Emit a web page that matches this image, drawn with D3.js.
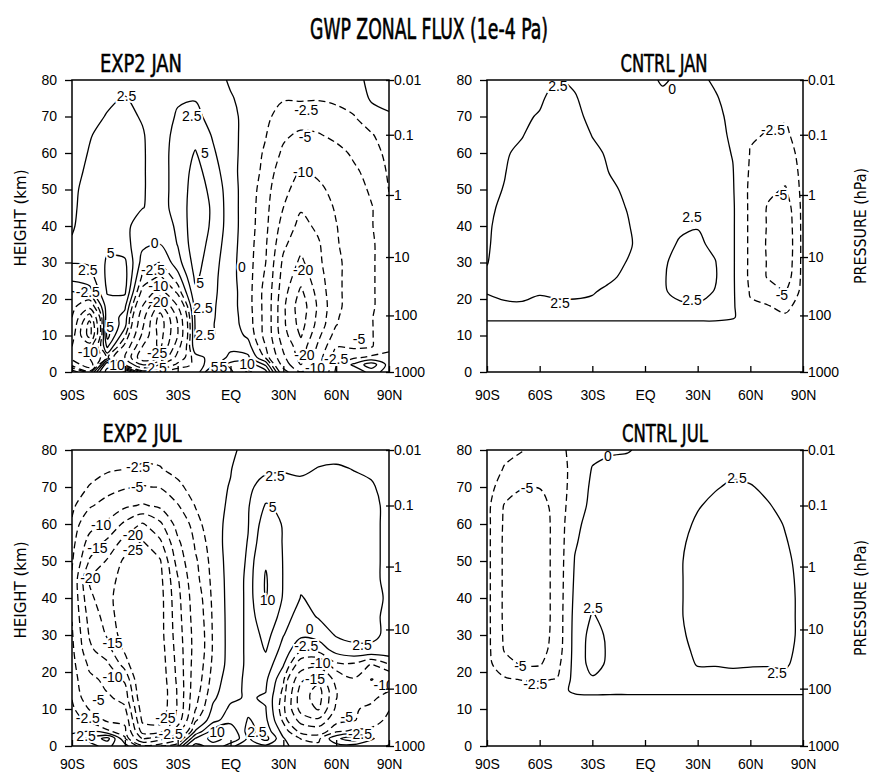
<!DOCTYPE html>
<html>
<head>
<meta charset="utf-8">
<script src="https://cdn.jsdelivr.net/npm/d3@7"></script>
<style>
  body { margin: 0; background: #fff; }
  svg text { font-family: "Liberation Sans", Arial, sans-serif; }
  .narrow { font-family: "Liberation Sans Narrow", "DejaVu Sans Condensed", sans-serif; }
</style>
</head>
<body>
<svg id="chart" width="871" height="775"></svg>
<script>
// grid: one column per latitude, values from 80 km (top) down to the ground
var lats = [-90, -80, -70, -60, -50, -40, -30, -20, -10, 0, 10, 20, 30, 40, 50, 60, 70, 80, 90];
var heights = [80, 75, 70, 65, 60, 55, 50, 45, 40, 35, 30, 26, 22, 18, 15, 13, 10, 7, 4, 2, 0];
var levels = [-25, -20, -15, -10, -5, -2.5, 0, 2.5, 5, 10, 15, 20, 25];

var latTicks = [-90, -60, -30, 0, 30, 60, 90];
var latTickLabels = ["90S", "60S", "30S", "EQ", "30N", "60N", "90N"];
var kmTicks = [0, 10, 20, 30, 40, 50, 60, 70, 80];
var pressureHeights = [0, 15.5, 31.5, 48.5, 65, 80];
var pressureLabels = ["1000", "100", "10", "1", "0.1", "0.01"];

var exp2Jan = [
  [1, 1.2, 1.3, 1.5, 1.8, 2, 2.2, 2.3, 2.4, 2.6, 2.6, 1, -2.6, -4, -5, -6, -8, -10, -12, -6, 2],
  [1.2, 1.6, 2, 2.4, 2.6, 2.8, 3, 3, 3, 3, 2.8, 1.5, -1, -8, -18, -22, -22, -12, -10, -14, -4],
  [1.5, 2.2, 2.6, 3, 3.2, 3.3, 3.4, 3.4, 3.5, 4.5, 5.3, 5.5, 5.2, 4, 4.5, 5.5, 6, 3, -2, 8, 12],
  [1.8, 2.6, 2.8, 3, 3, 3, 3, 3, 3, 3.5, 5.5, 6, 5.5, 3, 1.5, 1, -2, -6, -10, -5, 10],
  [1.5, 2, 2.4, 2.6, 2.6, 2.6, 2.6, 2.55, 1.5, 0.5, -1, -3, -6, -10, -13, -14, -16, -20, -24, -15, -3],
  [1, 1.3, 1.6, 1.8, 2, 2, 2, 2, 1.5, 0, -2.6, -5.5, -12, -22, -27, -28, -27, -26, -20, -10, -2],
  [1.5, 2.3, 2.7, 3, 3, 3, 3, 3, 2.8, 2.6, 1.5, -1, -4, -10, -14, -15, -15, -12, -8, -4, -1],
  [1.8, 2.4, 3, 4, 5.2, 6, 6.5, 6.8, 6.8, 6.5, 6, 5.5, 4.5, 3.5, 3, 2.8, 2.7, 2, -1, -2, -2],
  [1, 1.3, 1.8, 2.3, 2.8, 3.5, 4.2, 4.6, 4.5, 4, 3.5, 3.2, 3, 2.8, 2.7, 2.6, 2.6, 2, 1, 2, 6],
  [-0.3, 0.2, 0.8, 1, 1, 1, 1.2, 1.2, 1.2, 1, 0.8, 0.8, 1, 1, 1.1, 1.2, 1.5, 2, 3, 6, 4],
  [-0.5, -0.8, -1, -1.2, -1.3, -1.5, -1.5, -1.5, -1.5, -1.5, -1.5, -1.5, -1.5, -1.5, -1.3, -1.2, -0.5, 1, 3, 7, 11],
  [-1, -1.5, -2, -2.4, -2.8, -3, -3.5, -3.8, -4, -4.5, -5, -5.5, -6, -6, -6, -6, -6, -5, -3, 2, 6],
  [-1.5, -2.3, -3.5, -4.5, -5.5, -7, -8.5, -10, -12, -14, -16, -17, -18, -19, -19, -19, -18, -16, -14, -12, -8],
  [-1.8, -2.3, -3.5, -5.5, -8, -10.5, -12.5, -14.5, -16.5, -18.5, -21, -23, -26, -28, -27.5, -27, -25.5, -23, -22, -20, -15],
  [-1.6, -2.4, -3.2, -5.2, -7.5, -9, -11, -12.5, -14, -15.5, -16, -17, -18, -19, -18.5, -18, -16, -14, -12, -11, -9],
  [-1.3, -2.2, -3, -4.2, -6, -7, -8.5, -9.5, -10.2, -10.5, -11, -11, -11, -11, -10.5, -10.2, -8, -5.2, -3, -2.6, -2],
  [-0.8, -1.6, -2.6, -3.5, -4.5, -5.5, -6.5, -7, -7, -7.5, -8, -8, -8, -8, -7.5, -7, -6, -5.5, -3, 0.5, -2],
  [0.6, 0.3, -1, -2.7, -3.5, -4, -4.5, -5.2, -5.2, -5.5, -5.5, -5.5, -5.5, -5.5, -5.2, -5.2, -5.2, -5.2, -2, 4, 1],
  [1.2, 0.8, -0.3, -1.2, -1.8, -2.2, -2.45, -2.8, -3, -3, -3, -3, -3, -3, -3, -3, -3.2, -3, -2, -1, -1]
];

var cntrlJan = [
  [2, 2, 2.1, 2.1, 2.2, 2.2, 2.2, 2.2, 2.3, 2.35, 2.45, 2.7, 2.6, 2, 1, -1, -1, -1, -1, -1, -1],
  [1.8, 2, 2.2, 2.3, 2.4, 2.45, 2.55, 2.8, 3, 3.1, 3.2, 3, 2.8, 2.3, 1, -1, -1, -1, -1, -1, -1],
  [1.8, 2.1, 2.3, 2.45, 2.7, 3, 3.2, 3.3, 3.4, 3.5, 3.6, 3.4, 2.9, 2.3, 1, -1, -1, -1, -1, -1, -1],
  [2, 2.3, 2.6, 2.9, 3.2, 3.4, 3.5, 3.6, 3.6, 3.5, 3.3, 2.9, 2.6, 2.2, 1, -1, -1, -1, -1, -1, -1],
  [2.6, 3, 3.3, 3.5, 3.7, 3.8, 3.8, 3.8, 3.7, 3.5, 3.2, 3, 2.7, 2.3, 1, -1, -1, -1, -1, -1, -1],
  [2.3, 2.6, 2.8, 3.2, 3.5, 3.6, 3.7, 3.7, 3.6, 3.4, 3.2, 3, 2.7, 2.3, 1, -1, -1, -1, -1, -1, -1],
  [1.8, 2, 2.2, 2.45, 2.8, 3, 3.2, 3.3, 3.3, 3.2, 3.1, 3, 2.6, 2.2, 1, -1, -1, -1, -1, -1, -1],
  [1.5, 1.7, 1.9, 2.1, 2.3, 2.45, 2.7, 2.9, 3, 3, 2.9, 2.7, 2.2, 1.8, 1, -1, -1, -1, -1, -1, -1],
  [1.2, 1.4, 1.6, 1.8, 2, 2.1, 2.3, 2.45, 2.6, 2.7, 2.45, 2.2, 1.9, 1.6, 1, -1, -1, -1, -1, -1, -1],
  [0.8, 1, 1.2, 1.4, 1.5, 1.6, 1.7, 1.8, 1.9, 2, 2, 1.9, 1.7, 1.4, 1, -1, -1, -1, -1, -1, -1],
  [-0.3, 0.6, 0.9, 1, 1.1, 1.2, 1.3, 1.4, 1.6, 1.9, 2.2, 2.3, 2.3, 1.8, 1, -1, -1, -1, -1, -1, -1],
  [0.5, 0.8, 1, 1.2, 1.3, 1.5, 1.7, 1.9, 2.2, 2.7, 3.2, 3.3, 3, 2.2, 1, -1, -1, -1, -1, -1, -1],
  [0.5, 0.8, 1, 1.1, 1.2, 1.4, 1.6, 1.9, 2.4, 2.9, 3.4, 3.5, 3.2, 2.3, 1, -1, -1, -1, -1, -1, -1],
  [-0.3, 0.2, 0.5, 0.6, 0.8, 0.9, 1, 1.2, 1.5, 2, 2.6, 2.7, 2.4, 1.8, 1, -1, -1, -1, -1, -1, -1],
  [-1, -0.8, -0.5, -0.3, -0.1, 0.1, 0.2, 0.3, 0.3, 0.3, 0.3, 0.3, 0.3, 0.3, 0.3, -1, -1, -1, -1, -1, -1],
  [-1.5, -1.8, -2, -2.3, -2.6, -2.8, -3, -3, -3, -3, -3, -3, -2.7, -2.2, -1.8, -1.5, -1.3, -1.2, -1.2, -1.2, -1.2],
  [-1.5, -2, -2.2, -2.6, -3.2, -3.8, -4.5, -5.2, -5.2, -5.3, -5.2, -5.2, -3.5, -2.4, -1.8, -1.5, -1.3, -1.2, -1.2, -1.2, -1.2],
  [-1.5, -2, -2.3, -2.8, -3.5, -4.2, -5.2, -6.5, -7, -7.2, -7, -6.5, -5.1, -3, -2.2, -1.8, -1.5, -1.3, -1.2, -1.2, -1.2],
  [-1, -1.2, -1.4, -1.6, -1.7, -1.8, -1.8, -1.8, -1.8, -1.8, -1.8, -1.8, -1.7, -1.6, -1.4, -1.2, -1.2, -1.2, -1.2, -1.2, -1.2]
];

var exp2Jul = [
  [-0.8, -1.2, -1.6, -2, -2.8, -3.5, -4.5, -5.5, -5.5, -5.2, -4.5, -4, -3.5, -3, -2.8, -2.6, -2, -1.5, -0.5, 1, 0.5],
  [-1.2, -1.8, -2.6, -4.5, -8, -12, -15.5, -20.5, -19, -17, -15.5, -14, -11, -9, -8, -7, -5.2, -3, 0, 3, 2],
  [-1.5, -2.2, -3.5, -6.5, -11, -16, -20.5, -22, -23, -22, -20.5, -18, -14, -11, -10.2, -9, -7, -5.5, -2, 6, 3],
  [-1.8, -2.4, -4.5, -9, -16, -22, -26, -28, -29, -29, -28, -26, -22, -16, -13, -12, -9, -6, -4, -2, 1],
  [-2, -2.7, -5.2, -10.5, -20.5, -25.5, -30, -33, -35, -35, -35, -35, -34, -32, -31, -30, -28, -26, -22, -15.5, -4],
  [-1.8, -2.6, -4.8, -9, -16, -21, -25.5, -26.5, -27, -27, -27, -27.5, -28, -28.5, -29, -29, -28.5, -27, -22, -12, -2.6],
  [-1.2, -1.8, -3, -5.2, -8, -11, -13, -15.5, -16.5, -17, -17.5, -18, -18.5, -19, -19.5, -19.5, -19.5, -18, -12, -6, -1],
  [-0.5, -1, -1.6, -2.4, -3.5, -4.5, -5.5, -6, -7, -7.5, -8, -8, -7.5, -7, -6.5, -6, -5.2, -3, 0.2, 5.2, 12],
  [-0.5, -0.6, -0.6, -0.7, -0.8, -1.2, -1.5, -1.8, -2, -2.2, -2.3, -2.3, -2, -1.5, -1, -0.5, 0.5, 1.5, 6, 12, 8],
  [-0.3, -0.1, 0.1, 0.3, 0.6, 1, 1, 1, 1, 1, 1, 1, 1, 1.5, 1.8, 2, 3, 4, 7, 8, 3],
  [0.5, 1.2, 2, 2.3, 2.4, 2.6, 2.8, 3, 3, 3, 3, 3, 3, 3, 2.9, 2.8, 2.8, 2.4, 1.5, 2, 1],
  [1, 2, 3.5, 5.2, 6.5, 7.5, 9.5, 10.5, 10.2, 8, 6, 5.2, 4, 3, 2.6, 2.2, 2.6, 3, 4, 6, 2],
  [1, 2.2, 3.5, 4.5, 4.8, 4.8, 4.8, 4.8, 4.6, 3.5, 2.6, 1.5, 0.2, -2, -3, -3.5, -4, -3, -1, 0.2, 0.5],
  [1, 2, 3.2, 3.6, 3.8, 3.8, 3.6, 3, 2.4, 1.5, 0.5, -2, -7, -14, -17, -18, -17, -12, -6, -2.6, -1],
  [1.5, 2.6, 3.5, 3.8, 4, 4, 3.8, 3.3, 3, 2.7, 1, -1.5, -8, -18, -22, -22, -20.5, -14, -7, -3, -2],
  [1.5, 2.8, 3.5, 3.8, 4, 4, 3.8, 3.6, 3.4, 3.2, 2.7, 1, -3, -8, -10.2, -10.2, -9, -6, -3, 2, -1],
  [1.2, 2.4, 3.2, 3.5, 3.6, 3.5, 3.4, 3.3, 3.2, 3, 2.8, 2.2, -3, -5.2, -5.2, -5.3, -5.5, -5.2, -2, 4, -1],
  [1, 2, 2.8, 3, 2.8, 2.7, 2.7, 2.7, 2.7, 2.6, 2.6, 2.4, -5.2, -10.2, -8, -6, -4, -3.5, -2, 0.2, -1],
  [0.5, 1, 1.5, 2, 2.2, 2.3, 2.3, 2.3, 2.4, 2.4, 2.4, 2, -2.6, -8, -5.2, -3, -2.6, -2, -1, -1, 0.2]
];

var cntrlJul = [
  [-1.5, -1.6, -1.7, -1.8, -1.8, -1.8, -1.8, -1.8, -1.8, -1.8, -1.8, -1.8, -1.8, -1.8, -1.5, -1.2, -1, -1, -1, -1, -1],
  [-2.1, -2.6, -3.5, -5.2, -5.4, -5.5, -5.5, -5.5, -5.5, -5.5, -5.4, -5.2, -4, -2.2, -1.5, -1.2, -1, -1, -1, -1, -1],
  [-2.4, -3.5, -4.8, -6.5, -7, -7.2, -7.2, -7.2, -7.2, -7.2, -7, -6.5, -5.2, -2.6, -1.5, -1.2, -1, -1, -1, -1, -1],
  [-3, -4, -4.9, -6, -6.5, -6.5, -6.5, -6.5, -6.5, -6.5, -6.3, -6, -5.2, -2.7, -1.5, -1.2, -1, -1, -1, -1, -1],
  [-3, -3.5, -3.8, -4, -4, -4, -4, -4, -4, -4, -4, -3.8, -3.2, -2.4, -1.5, -1.2, -1, -1, -1, -1, -1],
  [-2, -1.8, -1.5, -1, -0.5, -0.2, 0.1, 0.3, 0.5, 0.7, 0.8, 0.8, 0.8, 0.8, 0.8, -1, -1, -1, -1, -1, -1],
  [-0.6, 0.1, 0.4, 0.5, 0.8, 1, 1.2, 1.4, 2, 2.7, 3.4, 3.6, 3.4, 2.2, 1.5, -1, -1, -1, -1, -1, -1],
  [-0.2, 0.4, 0.6, 0.8, 1, 1.1, 1.2, 1.3, 1.4, 1.7, 2, 2.1, 2, 1.6, 1.2, -1, -1, -1, -1, -1, -1],
  [-0.1, 0.5, 0.7, 0.9, 1, 1.1, 1.2, 1.3, 1.4, 1.5, 1.6, 1.6, 1.5, 1.4, 1.2, -1, -1, -1, -1, -1, -1],
  [0.3, 0.6, 0.8, 1, 1.1, 1.2, 1.3, 1.4, 1.5, 1.6, 1.6, 1.6, 1.5, 1.4, 1.2, -1, -1, -1, -1, -1, -1],
  [0.5, 0.8, 1, 1.2, 1.4, 1.5, 1.6, 1.7, 1.8, 1.8, 1.8, 1.8, 1.7, 1.5, 1.2, -1, -1, -1, -1, -1, -1],
  [0.8, 1.2, 1.5, 1.8, 2.1, 2.3, 2.4, 2.4, 2.4, 2.4, 2.3, 2.1, 1.8, 1.5, 1.2, -1, -1, -1, -1, -1, -1],
  [1, 1.5, 2, 2.4, 2.7, 2.9, 3, 3, 3, 3, 2.9, 2.8, 2.6, 1.8, 1.2, -1, -1, -1, -1, -1, -1],
  [1.2, 1.8, 2.4, 2.8, 3.1, 3.2, 3.3, 3.3, 3.3, 3.2, 3.1, 2.9, 2.6, 1.8, 1.2, -1, -1, -1, -1, -1, -1],
  [1.5, 2.2, 2.7, 3, 3.2, 3.3, 3.4, 3.4, 3.4, 3.3, 3.2, 3, 2.7, 1.9, 1.2, -1, -1, -1, -1, -1, -1],
  [1.3, 2, 2.6, 3, 3.2, 3.3, 3.3, 3.3, 3.3, 3.2, 3.1, 3, 2.6, 2, 1.2, -1, -1, -1, -1, -1, -1],
  [1.1, 1.7, 2.2, 2.6, 3, 3.1, 3.2, 3.2, 3.2, 3.1, 3, 2.9, 2.6, 1.9, 1.2, -1, -1, -1, -1, -1, -1],
  [0.9, 1.3, 1.8, 2.1, 2.4, 2.6, 2.8, 2.9, 3, 3, 3, 2.9, 2.7, 2, 1.2, -1, -1, -1, -1, -1, -1],
  [0.6, 0.9, 1.2, 1.5, 1.7, 1.9, 2, 2.1, 2.1, 2.1, 2.1, 2, 1.8, 1.5, 1.2, -1, -1, -1, -1, -1, -1]
];

// contour labels: [lat, km, text]
var exp2JanLabels = [
  [-59, 75.6, "2.5"], [-22, 70, "2.5"], [-14.5, 60, "5"], [43, 71.8, "-2.5"], [42.3, 64.4, "-5"],
  [41.2, 54.8, "-10"], [-43, 35.3, "0"], [-68, 32.6, "5"], [-81, 27.9, "2.5"], [-81, 21.9, "-2.5"],
  [-44, 28, "-2.5"], [-41, 23.5, "-10"], [-41, 19.2, "-20"], [-17.3, 24.4, "5"], [-15.6, 17.5, "2.5"],
  [-14.5, 10, "2.5"], [-68.4, 12.3, "5"], [-81, 5.5, "-10"], [-64.4, 1.8, "10"], [-41.7, 5.2, "-25"],
  [-41.7, 1.2, "2.5"], [-9, 1.4, "5"], [-4, 1.4, "5"], [9.4, 2.2, "10"], [6.5, 28.8, "0"],
  [41.2, 28, "-20"], [42, 4.7, "-20"], [48, 1.2, "-10"], [60, 3.4, "-2.5"], [73, 8.9, "-5"]
];
var cntrlJanLabels = [
  [-49.6, 78.2, "2.5"], [15.4, 77.6, "0"], [72.9, 66.3, "-2.5"], [77.5, 48.5, "-5"],
  [26.8, 42.5, "2.5"], [26.8, 19.7, "2.5"], [-48.4, 18.9, "2.5"], [78, 21, "-5"]
];
var exp2JulLabels = [
  [-52.5, 75.4, "-2.5"], [-53, 70, "-5"], [-73.5, 59.7, "-10"], [-55.4, 57, "-20"], [-75.6, 53.5, "-15"],
  [-55.4, 53, "-25"], [-79.6, 45.4, "-20"], [25.3, 73, "2.5"], [24, 64.6, "5"], [21, 39.5, "10"],
  [-67, 27.8, "-15"], [-67, 18.6, "-10"], [-75, 12.4, "-5"], [-81, 7.5, "-2.5"], [-82, 2.8, "2.5"],
  [-37, 7.6, "-25"], [-34, 3.2, "-2.5"], [-7.7, 3.8, "10"], [15, 3.8, "2.5"], [45, 31.5, "0"],
  [43, 27, "-2.5"], [51, 22.5, "-10"], [48, 18, "-15"], [74.7, 27.3, "2.5"], [87, 16.5, "-10"],
  [66, 7.8, "-5"], [73.5, 3.2, "-2.5"]
];
var cntrlJulLabels = [
  [-21.1, 78.4, "0"], [-67.2, 69.7, "-5"], [52.4, 72.4, "2.5"], [-29.6, 37.3, "2.5"],
  [-71, 21.6, "-5"], [-62.5, 16.6, "-2.5"], [75.2, 19.7, "2.5"]
];

var panels = [
  { title: "EXP2 JAN", titleX: 141, titleY: 72, titleLen: 82, field: exp2Jan, labels: exp2JanLabels,
    box: [72, 80, 389, 372], xLabelPad: 18, heightTitle: true },
  { title: "CNTRL JAN", titleX: 664, titleY: 72, titleLen: 87, field: cntrlJan, labels: cntrlJanLabels,
    box: [487, 80, 803, 372], xLabelPad: 18, pressureTitle: true },
  { title: "EXP2 JUL", titleX: 142, titleY: 442, titleLen: 79, field: exp2Jul, labels: exp2JulLabels,
    box: [72, 450, 389, 746], xLabelPad: 13, heightTitle: true },
  { title: "CNTRL JUL", titleX: 665, titleY: 442, titleLen: 86, field: cntrlJul, labels: cntrlJulLabels,
    box: [487, 450, 803, 746], xLabelPad: 13, pressureTitle: true }
];

var nx = lats.length, ny = heights.length;
var latAt = d3.scaleLinear().domain(d3.range(nx)).range(lats);
var kmAt = d3.scaleLinear().domain(d3.range(ny)).range(heights);

// d3.contours gives closed rings that run along the grid border; cut those parts off
function contourLines(field) {
  var values = [];
  for (var j = 0; j < ny; j++) for (var i = 0; i < nx; i++) values.push(field[i][j]);
  var out = [];
  d3.contours().size([nx, ny]).thresholds(levels)(values).forEach(function (c) {
    c.coordinates.forEach(function (poly) {
      poly.forEach(function (ring) {
        var pts = ring.slice(0, -1);
        var onEdge = pts.map(function (p) { return p[0] <= 0 || p[0] >= nx || p[1] <= 0 || p[1] >= ny; });
        var toData = function (p) { return [latAt(p[0] - 0.5), kmAt(p[1] - 0.5)]; };
        var start = onEdge.indexOf(true);
        if (start < 0) {
          out.push({ level: c.value, closed: true, pts: dedupe(pts.map(toData)) });
          return;
        }
        var run = [];
        for (var k = 1; k <= pts.length; k++) {
          var idx = (start + k) % pts.length;
          if (onEdge[idx]) {
            if (run.length > 1) out.push({ level: c.value, closed: false, pts: dedupe(run) });
            run = [];
          } else run.push(toData(pts[idx]));
        }
      });
    });
  });
  return out;
}

function dedupe(pts) {
  return pts.filter(function (p, i) {
    return i === 0 || Math.abs(p[0] - pts[i - 1][0]) > 1e-6 || Math.abs(p[1] - pts[i - 1][1]) > 1e-6;
  });
}

var svg = d3.select("#chart");
svg.append("rect").attr("width", 871).attr("height", 775).attr("fill", "#fff");

svg.append("text").attr("class", "narrow")
  .attr("x", 429).attr("y", 39).attr("text-anchor", "middle")
  .attr("font-size", 28).attr("textLength", 238).attr("lengthAdjust", "spacingAndGlyphs")
  .attr("stroke", "#000").attr("stroke-width", 0.6)
  .text("GWP ZONAL FLUX (1e-4 Pa)");

panels.forEach(function (p, pi) {
  var x0 = p.box[0], y0 = p.box[1], x1 = p.box[2], y1 = p.box[3];
  var x = d3.scaleLinear().domain([-90, 90]).range([x0, x1]);
  var y = d3.scaleLinear().domain([0, 80]).range([y1, y0]);

  svg.append("clipPath").attr("id", "clip" + pi).append("rect")
    .attr("x", x0).attr("y", y0).attr("width", x1 - x0).attr("height", y1 - y0);
  var g = svg.append("g").attr("clip-path", "url(#clip" + pi + ")");

  var open = d3.line().x(function (d) { return x(d[0]); }).y(function (d) { return y(d[1]); })
    .curve(d3.curveCatmullRom.alpha(0.5));
  var closed = d3.line().x(function (d) { return x(d[0]); }).y(function (d) { return y(d[1]); })
    .curve(d3.curveCatmullRomClosed.alpha(0.5));

  g.selectAll("path").data(contourLines(p.field)).join("path")
    .attr("d", function (d) { return d.closed ? closed(d.pts) : open(d.pts); })
    .attr("fill", "none").attr("stroke", "#000").attr("stroke-width", 1.3)
    .attr("stroke-dasharray", function (d) { return d.level < 0 ? "7,4" : null; });

  g.selectAll("text").data(p.labels).join("text")
    .attr("x", function (d) { return x(d[0]); })
    .attr("y", function (d) { return y(d[1]); })
    .attr("dy", "0.35em").attr("text-anchor", "middle").attr("font-size", 14)
    .attr("stroke", "#fff").attr("stroke-width", 4).attr("paint-order", "stroke")
    .attr("fill", "#000")
    .text(function (d) { return d[2]; });

  svg.append("rect").attr("x", x0).attr("y", y0).attr("width", x1 - x0).attr("height", y1 - y0)
    .attr("fill", "none").attr("stroke", "#000").attr("stroke-width", 1.5);

  var left = svg.append("g").attr("transform", "translate(" + x0 + ",0)")
    .call(d3.axisLeft(y).tickValues(kmTicks).tickSize(7).tickPadding(8));
  var right = svg.append("g").attr("transform", "translate(" + x1 + ",0)")
    .call(d3.axisRight(y).tickValues(pressureHeights).tickSize(5).tickPadding(0)
      .tickFormat(function (d, i) { return pressureLabels[i]; }));
  right.selectAll(".tick line").attr("x1", -3);
  var bottom = svg.append("g").attr("transform", "translate(0," + y1 + ")")
    .call(d3.axisBottom(x).tickValues(latTicks).tickSize(-6).tickPadding(p.xLabelPad)
      .tickFormat(function (d, i) { return latTickLabels[i]; }));
  [left, right, bottom].forEach(function (a) {
    a.select(".domain").remove();
    a.attr("font-family", null).attr("font-size", 14);
    a.selectAll(".tick line").attr("stroke", "#000").attr("stroke-width", 1.3);
    a.selectAll(".tick text").attr("fill", "#000");
  });

  svg.append("text").attr("class", "narrow")
    .attr("x", p.titleX).attr("y", p.titleY).attr("text-anchor", "middle")
    .attr("font-size", 24).attr("textLength", p.titleLen).attr("lengthAdjust", "spacingAndGlyphs")
    .attr("stroke", "#000").attr("stroke-width", 0.5)
    .text(p.title);

  var midY = (y0 + y1) / 2;
  if (p.heightTitle) {
    svg.append("text").attr("class", "narrow")
      .attr("transform", "translate(26," + (midY - 8) + ") rotate(-90)")
      .attr("text-anchor", "middle").attr("font-size", 16)
      .attr("textLength", 97).attr("lengthAdjust", "spacingAndGlyphs")
      .text("HEIGHT (km)");
  }
  if (p.pressureTitle) {
    svg.append("text").attr("class", "narrow")
      .attr("transform", "translate(866," + midY + ") rotate(-90)")
      .attr("text-anchor", "middle").attr("font-size", 16)
      .attr("textLength", 116).attr("lengthAdjust", "spacingAndGlyphs")
      .text("PRESSURE (hPa)");
  }
});
</script>
</body>
</html>
